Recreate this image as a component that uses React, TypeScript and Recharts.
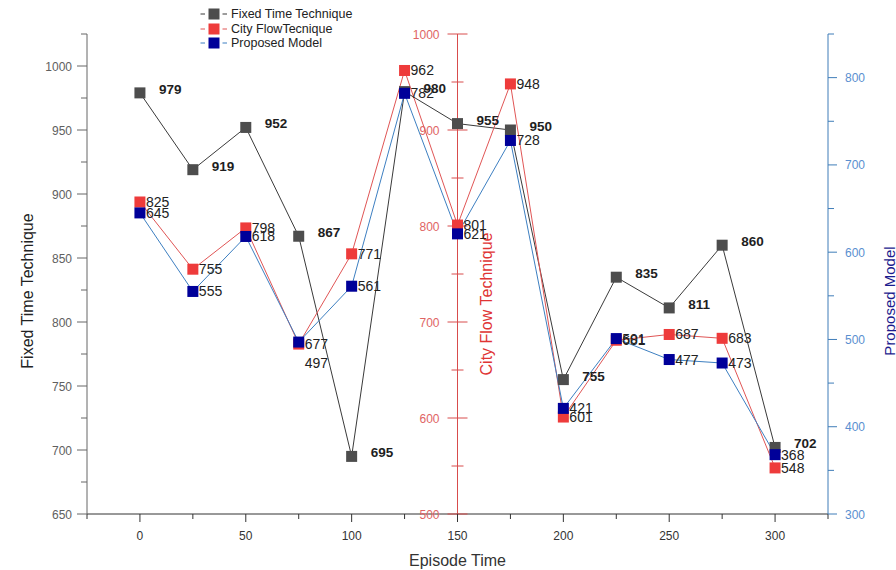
import React from 'react';
import {
  LineChart,
  Line,
  XAxis,
  YAxis,
  ReferenceLine,
  ReferenceDot,
  Legend,
  LabelList,
} from 'recharts';

// ---------- data ----------
const episodes = [0, 25, 50, 75, 100, 125, 150, 175, 200, 225, 250, 275, 300];
const fixedTime = [979, 919, 952, 867, 695, 980, 955, 950, 755, 835, 811, 860, 702];
const cityFlow = [825, 755, 798, 677, 771, 962, 801, 948, 601, 681, 687, 683, 548];
const proposedModel = [645, 555, 618, 497, 561, 782, 621, 728, 421, 501, 477, 473, 368];

const xTicks = [-25, 0, 25, 50, 75, 100, 125, 150, 175, 200, 225, 250, 275, 300, 325];
const fixedTicks = [650, 675, 700, 725, 750, 775, 800, 825, 850, 875, 900, 925, 950, 975, 1000, 1025];
const cityTicks = [500, 550, 600, 650, 700, 750, 800, 850, 900, 950, 1000];
const proposedTicks = [300, 350, 400, 450, 500, 550, 600, 650, 700, 750, 800, 850];

const seriesNames = ['Fixed Time Technique', 'City FlowTecnique', 'Proposed Model'];
const axisTitles = ['Episode Time', 'Fixed Time Technique', 'City Flow Technique', 'Proposed Model'];
const cityAxisAt = 150;

const data = episodes.map((e, i) => ({
  episode: e,
  fixed: fixedTime[i],
  city: cityFlow[i],
  proposed: proposedModel[i],
}));

// ---------- styles ----------
const FONT = '"Liberation Sans", Arial, sans-serif';
const GRAY_SQ = '#4d4d4d';
const GRAY_LINE = '#3a3a3a';
const RED_SQ = '#ee3b3b';
const RED_LINE = '#e05555';
const BLUE_SQ = '#000099';
const BLUE_LINE = '#3d7fc1';
const RED_AXIS = '#d84c4c';
const RED_TICK_TEXT = '#e06464';
const BLUE_AXIS = '#3f7db8';
const BLUE_TICK_TEXT = '#5a8fd0';

const SQ = 11;

const makeDot = (fill: string) => (p: any) => {
  if (p.cx == null || p.cy == null) return <g key={p.index} />;
  return <rect key={p.index} x={p.cx - SQ / 2} y={p.cy - SQ / 2} width={SQ} height={SQ} fill={fill} />;
};

const getXY = (p: any) => {
  const x = p.x != null ? p.x : p.viewBox?.x;
  const y = p.y != null ? p.y : p.viewBox?.y;
  return { x: Number(x), y: Number(y) };
};

const FixedLabel = (p: any) => {
  const { x, y } = getXY(p);
  return (
    <text x={x + 19} y={y + 1} fontSize={13.5} fontWeight="bold" fill="#1e1e1e" fontFamily={FONT}>
      {p.value}
    </text>
  );
};

const CityLabel = (p: any) => {
  const { x, y } = getXY(p);
  return (
    <text x={x + 6} y={y + 5} fontSize={14} fill="#222" fontFamily={FONT}>
      {p.value}
    </text>
  );
};

const ProposedLabel = (p: any) => {
  const { x, y } = getXY(p);
  const below = p.index === 3;
  return (
    <text x={x + 6} y={below ? y + 26 : y + 5} fontSize={14} fill="#222" fontFamily={FONT}>
      {p.value}
    </text>
  );
};

const XTick = (p: any) => {
  const { x, y, payload } = p;
  const v = payload.value;
  const major = v % 50 === 0;
  return (
    <g>
      <line x1={x} x2={x} y1={y} y2={y + (major ? 8 : 5)} stroke="#333" />
      {major && (
        <text x={x} y={y + 26} textAnchor="middle" fontSize={12} fill="#333" fontFamily={FONT}>
          {v}
        </text>
      )}
    </g>
  );
};

const LeftTick = (p: any) => {
  const { x, y, payload } = p;
  const v = payload.value;
  const major = v % 50 === 0;
  return (
    <g>
      <line x1={x - (major ? 10 : 6)} x2={x} y1={y} y2={y} stroke="#666" />
      {major && (
        <text x={x - 15} y={y + 4.5} textAnchor="end" fontSize={12} fill="#606060" fontFamily={FONT}>
          {v}
        </text>
      )}
    </g>
  );
};

const RightTick = (p: any) => {
  const { x, y, payload } = p;
  const v = payload.value;
  const major = v % 100 === 0;
  return (
    <g>
      <line x1={x} x2={x + (major ? 9 : 6)} y1={y} y2={y} stroke={BLUE_AXIS} />
      {major && (
        <text x={x + 17} y={y + 4.5} textAnchor="start" fontSize={12} fill={BLUE_TICK_TEXT} fontFamily={FONT}>
          {v}
        </text>
      )}
    </g>
  );
};

const makeCityTick = (v: number) => (p: any) => {
  const { cx, cy } = p;
  if (cx == null || cy == null) return <g />;
  const major = v % 100 === 0;
  const len = major ? 10 : 6;
  return (
    <g>
      <line x1={cx - len} x2={cx + len} y1={cy} y2={cy} stroke={RED_AXIS} />
      {major && (
        <text x={cx - 18} y={cy + 4.5} textAnchor="end" fontSize={12} fill={RED_TICK_TEXT} fontFamily={FONT}>
          {v}
        </text>
      )}
    </g>
  );
};

const legendItems = [
  { name: seriesNames[0], sq: GRAY_SQ, line: GRAY_LINE },
  { name: seriesNames[1], sq: RED_SQ, line: RED_LINE },
  { name: seriesNames[2], sq: BLUE_SQ, line: BLUE_LINE },
];

const LegendContent = () => (
  <div style={{ fontFamily: FONT, fontSize: 12.5, color: '#222' }}>
    {legendItems.map((it) => (
      <div key={it.name} style={{ display: 'flex', alignItems: 'center', height: 14.5, whiteSpace: 'nowrap' }}>
        <svg width={28} height={12} style={{ display: 'block' }}>
          <line x1={0.5} x2={5} y1={6} y2={6} stroke={it.line} />
          <rect x={8.5} y={0.5} width={11} height={11} fill={it.sq} />
          <line x1={22.5} x2={27} y1={6} y2={6} stroke={it.line} />
        </svg>
        <span style={{ marginLeft: 3 }}>{it.name}</span>
      </div>
    ))}
  </div>
);

const XTitle = (p: any) => {
  const vb = p.viewBox || {};
  return (
    <text
      x={vb.x + vb.width / 2}
      y={vb.y + 46}
      textAnchor="middle"
      dominantBaseline="central"
      fontSize={16}
      fill="#333"
      fontFamily={FONT}
    >
      {axisTitles[0]}
    </text>
  );
};

const LeftTitle = (p: any) => {
  const vb = p.viewBox || {};
  const cx = 27;
  const cy = vb.y + vb.height / 2 + 17;
  return (
    <text
      x={cx}
      y={cy}
      transform={`rotate(-90, ${cx}, ${cy})`}
      textAnchor="middle"
      dominantBaseline="central"
      fontSize={16}
      fill="#222"
      fontFamily={FONT}
    >
      {axisTitles[1]}
    </text>
  );
};

const RightTitle = (p: any) => {
  const vb = p.viewBox || {};
  const cx = vb.x + 61;
  const cy = vb.y + vb.height / 2 + 27;
  return (
    <text
      x={cx}
      y={cy}
      transform={`rotate(-90, ${cx}, ${cy})`}
      textAnchor="middle"
      dominantBaseline="central"
      fontSize={15}
      fill="#1c1c8e"
      fontFamily={FONT}
    >
      {axisTitles[3]}
    </text>
  );
};

const CityTitle = (p: any) => {
  const vb = p.viewBox || {};
  const cx = vb.x + 29;
  const cy = vb.y + vb.height / 2 + 30;
  return (
    <text
      x={cx}
      y={cy}
      transform={`rotate(-90, ${cx}, ${cy})`}
      textAnchor="middle"
      dominantBaseline="central"
      fontSize={16}
      fill="#e03434"
      fontFamily={FONT}
    >
      {axisTitles[2]}
    </text>
  );
};

export default function App() {
  return (
    <div style={{ position: 'absolute', left: 0, top: 0, width: 896, height: 570, background: '#fff' }}>
      <LineChart width={896} height={570} data={data} margin={{ top: 34, right: 0, bottom: 0, left: 0 }}>
        <XAxis
          dataKey="episode"
          type="number"
          domain={[-25, 325]}
          ticks={xTicks}
          interval={0}
          height={56}
          tickSize={0}
          tickMargin={0}
          tickLine={false}
          axisLine={{ stroke: '#333' }}
          tick={(p: any) => <XTick {...p} />}
          label={(p: any) => <XTitle {...p} />}
        />
        <YAxis
          yAxisId="fixed"
          orientation="left"
          domain={[650, 1025]}
          ticks={fixedTicks}
          interval={0}
          width={87}
          tickSize={0}
          tickMargin={0}
          tickLine={false}
          axisLine={{ stroke: '#666' }}
          tick={(p: any) => <LeftTick {...p} />}
          label={(p: any) => <LeftTitle {...p} />}
        />
        <YAxis yAxisId="city" hide width={0} domain={[500, 1000]} />
        <YAxis
          yAxisId="proposed"
          orientation="right"
          domain={[300, 850]}
          ticks={proposedTicks}
          interval={0}
          width={68}
          tickSize={0}
          tickMargin={0}
          tickLine={false}
          axisLine={{ stroke: BLUE_AXIS }}
          tick={(p: any) => <RightTick {...p} />}
          label={(p: any) => <RightTitle {...p} />}
        />
        <Legend
          layout="vertical"
          verticalAlign="middle"
          align="center"
          content={() => <LegendContent />}
          wrapperStyle={{ top: 7, left: 200, width: 200 }}
        />
        <ReferenceLine
          x={cityAxisAt}
          yAxisId="city"
          stroke={RED_AXIS}
          ifOverflow="visible"
          label={(p: any) => <CityTitle {...p} />}
        />
        {cityTicks.map((v) => (
          <ReferenceDot
            key={v}
            x={cityAxisAt}
            y={v}
            yAxisId="city"
            r={0}
            ifOverflow="visible"
            shape={makeCityTick(v)}
          />
        ))}
        <Line
          yAxisId="fixed"
          dataKey="fixed"
          name={seriesNames[0]}
          stroke={GRAY_LINE}
          strokeWidth={1}
          dot={makeDot(GRAY_SQ)}
          activeDot={false}
          isAnimationActive={false}
        >
          <LabelList dataKey="fixed" content={(p: any) => <FixedLabel {...p} />} />
        </Line>
        <Line
          yAxisId="city"
          dataKey="city"
          name={seriesNames[1]}
          stroke={RED_LINE}
          strokeWidth={1}
          dot={makeDot(RED_SQ)}
          activeDot={false}
          isAnimationActive={false}
        >
          <LabelList dataKey="city" content={(p: any) => <CityLabel {...p} />} />
        </Line>
        <Line
          yAxisId="proposed"
          dataKey="proposed"
          name={seriesNames[2]}
          stroke={BLUE_LINE}
          strokeWidth={1}
          dot={makeDot(BLUE_SQ)}
          activeDot={false}
          isAnimationActive={false}
        >
          <LabelList dataKey="proposed" content={(p: any) => <ProposedLabel {...p} />} />
        </Line>
      </LineChart>
    </div>
  );
}
